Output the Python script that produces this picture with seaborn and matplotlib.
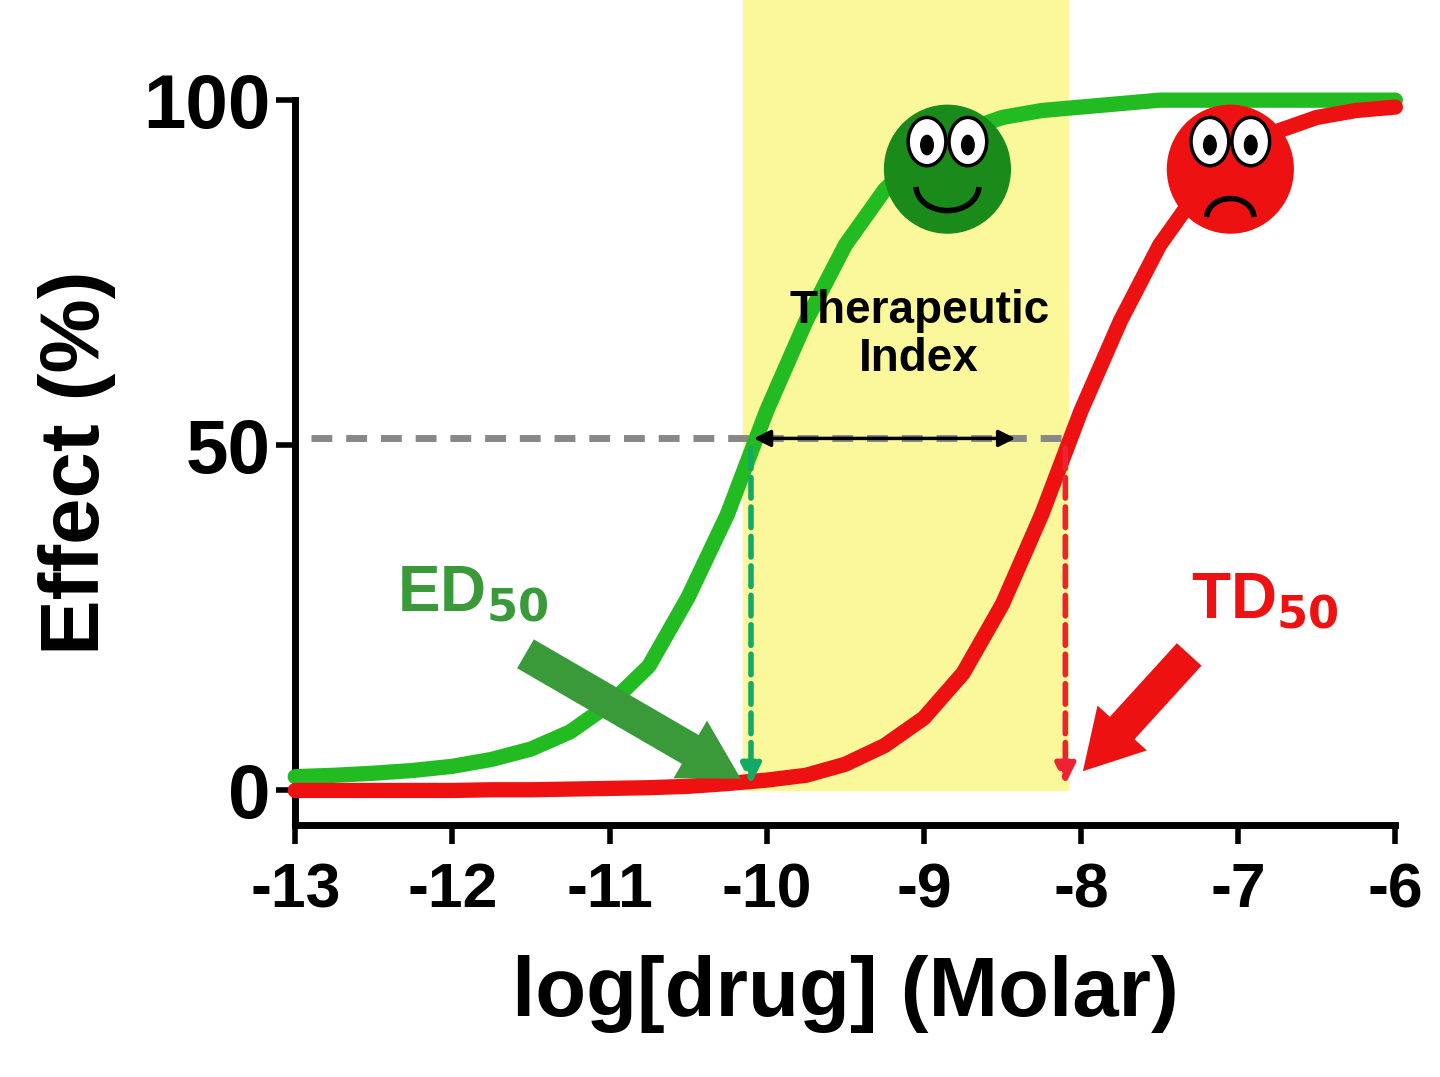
import numpy as np
import pandas as pd
import matplotlib
matplotlib.use("Agg")
import matplotlib.pyplot as plt
import seaborn as sns
from matplotlib.patches import Arc, Ellipse

# values
log_dose = [-13, -12.75, -12.5, -12.25, -12, -11.75, -11.5, -11.25, -11, -10.75, -10.5, -10.25,
            -10, -9.75, -9.5, -9.25, -9, -8.75, -8.5, -8.25, -8, -7.75, -7.5, -7.25, -7,
            -6.75, -6.5, -6.25, -6]
effect_ed = [2, 2.2, 2.5, 2.9, 3.5, 4.5, 6, 8.5, 12.5, 18, 28, 40, 55, 68, 79, 87, 92.5, 95.5,
             97.5, 98.5, 99, 99.5, 100, 100, 100, 100, 100, 100, 100]
effect_td = [0, 0, 0, 0, 0, 0.1, 0.1, 0.2, 0.3, 0.4, 0.6, 1, 1.5, 2.2, 3.8, 6.5, 10.5, 17, 27,
             40, 55, 68, 79, 87, 92.5, 95.5, 97.5, 98.5, 99]
ed50 = -10.1
td50 = -8.1
band = [-10.15, -8.08]
x_ticks = [-13, -12, -11, -10, -9, -8, -7, -6]
y_ticks = [0, 50, 100]

sns.set_theme(style="ticks")
plt.rcParams['font.family'] = ['Liberation Sans', 'DejaVu Sans']
plt.rcParams['font.weight'] = 'bold'
plt.rcParams['text.color'] = 'black'
plt.rcParams['axes.labelcolor'] = 'black'
plt.rcParams['xtick.color'] = 'black'
plt.rcParams['ytick.color'] = 'black'

fig = plt.figure(figsize=(14.4, 10.77), dpi=100)
ax = fig.add_axes([0.205, 0.234, 0.764, 0.673])
ax.set_xlim(-13, -6)
ax.set_ylim(-5, 100)

ax.axvspan(band[0], band[1], ymin=5 / 105, ymax=1.14, color='#fbf89c', zorder=0, clip_on=False)

df = pd.DataFrame({'x': log_dose * 2, 'y': effect_ed + effect_td,
                   'curve': ['ED'] * len(log_dose) + ['TD'] * len(log_dose)})
sns.lineplot(data=df, x='x', y='y', hue='curve', palette={'ED': '#22bb22', 'TD': '#ee1111'},
             linewidth=11, legend=False, ax=ax, clip_on=False, zorder=3)

# 50% reference line and drops
ax.plot([-12.9, td50], [51, 51], ls=(0, (3, 2)), color='#888888', lw=5, zorder=2)
ax.annotate('', xy=(ed50, 0.5), xytext=(ed50, 50),
            arrowprops=dict(arrowstyle='-|>', ls='--', color='#14aa66', lw=4, mutation_scale=30), zorder=4)
ax.annotate('', xy=(td50, 0.5), xytext=(td50, 50),
            arrowprops=dict(arrowstyle='-|>', ls='--', color='#ee2233', lw=4, mutation_scale=30), zorder=4)
ax.annotate('', xy=(ed50, 51), xytext=(-8.4, 51),
            arrowprops=dict(arrowstyle='<|-|>', color='black', lw=2.5, mutation_scale=25), zorder=5)
ax.text(-9.03, 66, 'Therapeutic\nIndex', ha='center', va='center', fontsize=33, fontweight='bold',
        linespacing=1.1)

ax.text(-12.35, 26, r'ED$_{\mathbf{50}}$', color='#3a9a3a', fontsize=46, fontweight='bold', ha='left')
ax.text(-7.3, 25, r'TD$_{\mathbf{50}}$', color='#ee1111', fontsize=46, fontweight='bold', ha='left')
ax.annotate('', xy=(-10.15, 1.5), xytext=(-11.55, 20),
            arrowprops=dict(arrowstyle='simple,head_width=1.6,head_length=1.4,tail_width=0.8',
                            color='#3a9a3a', lw=0, mutation_scale=30), zorder=5)
ax.annotate('', xy=(-8.0, 2.5), xytext=(-7.3, 20),
            arrowprops=dict(arrowstyle='simple,head_width=1.6,head_length=1.4,tail_width=0.8',
                            color='#ee1111', lw=0, mutation_scale=30), zorder=5)

# faces
for cx, col, happy in [(-8.85, '#1a8a1a', True), (-7.05, '#ee1111', False)]:
    ax.add_patch(Ellipse((cx, 90), 0.8, 18.5, color=col, zorder=6, clip_on=False))
    for dx in (-0.13, 0.13):
        ax.add_patch(Ellipse((cx + dx, 94), 0.24, 7, facecolor='white', edgecolor='black',
                             lw=2.5, zorder=7, clip_on=False))
        ax.add_patch(Ellipse((cx + dx, 93.5), 0.08, 2.8, color='black', zorder=8, clip_on=False))
    if happy:
        ax.add_patch(Arc((cx, 87.5), 0.4, 7, theta1=200, theta2=340, color='black', lw=4, zorder=8))
    else:
        ax.add_patch(Arc((cx, 83), 0.3, 5.5, theta1=20, theta2=160, color='black', lw=4, zorder=8))

ax.set_xticks(x_ticks)
ax.set_xticklabels([str(t) for t in x_ticks])
ax.set_yticks(y_ticks)
ax.tick_params(axis='x', labelsize=45, width=4, length=14, pad=12)
ax.tick_params(axis='y', labelsize=55, width=4, length=14)
for lab in ax.get_xticklabels() + ax.get_yticklabels():
    lab.set_fontweight('bold')
sns.despine(ax=ax)
for s in ['left', 'bottom']:
    ax.spines[s].set_linewidth(5)
    ax.spines[s].set_color('black')
ax.set_xlabel('log[drug] (Molar)', fontsize=60, fontweight='bold', labelpad=25)
ax.set_ylabel('Effect (%)', fontsize=60, fontweight='bold', labelpad=20)

fig.savefig('out.png', dpi=100)
